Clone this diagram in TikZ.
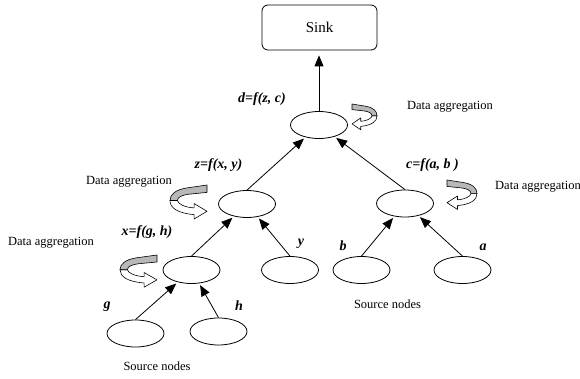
\documentclass[tikz,border=0pt]{standalone}
\usepackage{fontspec}
\setmainfont{Liberation Serif}
\usetikzlibrary{shapes.geometric,arrows.meta}

\begin{document}
\begin{tikzpicture}[
    x=1pt,y=-1pt,
    agg/.style={draw,ellipse,minimum width=57pt,minimum height=27pt,
                inner sep=0pt,line width=0.8pt},
    sinkbox/.style={draw,rounded corners=6pt,minimum width=115pt,
                minimum height=45pt,line width=0.8pt,font=\fontsize{15}{17}\selectfont},
    link/.style={-{Triangle[length=11pt,width=9pt]},line width=0.8pt,shorten >=2pt},
    fn/.style={anchor=base,font=\fontsize{14}{16}\selectfont\bfseries\itshape},
    note/.style={anchor=base,font=\fontsize{12.5}{14}\selectfont},
    curl/.style={draw,line width=0.6pt,line join=round},
  ]
    \useasboundingbox (0,0) rectangle (580,379);

    \node[sinkbox] (sink) at (319.5,27.5) {Sink};

    \node[agg] (nd) at (319,125)     {};
    \node[agg] (nz) at (247,204)     {};
    \node[agg] (nc) at (405,203.5)   {};
    \node[agg] (nx) at (191.5,270)   {};
    \node[agg] (ny) at (290,270)     {};
    \node[agg] (nb) at (361.5,270)   {};
    \node[agg] (na) at (462.5,270)   {};
    \node[agg] (ng) at (135.5,333.5) {};
    \node[agg] (nh) at (218.5,331.5) {};

    \draw[link,shorten >=5pt] (nd.north) -- (nd.north |- sink.south);
    \foreach \from/\to in {nz/nd,nc/nd,nx/nz,ny/nz,nb/nc,na/nc,ng/nx,nh/nx}
      \draw[link] (\from.north) -- (\to);

    % aggregation functions and leaf names
    \node[fn] (fd) at (262,102.5) {d=f(z, c)};
    \node[fn] (fz) at (218.5,169) {z=f(x, y)};
    \node[fn] (fc) at (432.5,169) {c=f(a, b )};
    \node[fn] (fx) at (147,235)   {x=f(g, h)};
    \node[fn] (ly) at (301,245)   {y};
    \node[fn] (lb) at (343,250)   {b};
    \node[fn] (la) at (483,250)   {a};
    \node[fn] (lg) at (107,308)   {g};
    \node[fn] (lh) at (239,310)   {h};

    \node[note] (agd) at (450,109.5) {Data aggregation};
    \node[note] (agz) at (129,184.3) {Data aggregation};
    \node[note] (agx) at (51,245)    {Data aggregation};
    \node[note,anchor=base west,inner sep=0pt] (agc) at (495,190) {Data aggregation};
    \node[note] (srcl) at (157,370.5) {Source nodes};
    \node[note] (srcr) at (387.5,308.5) {Source nodes};

    % curled arrows
    \foreach \cx/\cy/\cw/\ch in {352/104/25/28,447/180/30/32,207/185/-37/37,157/255/-37/35}{
      \begin{scope}[shift={(\cx,\cy)},xscale=\cw,yscale=\ch]
        \draw[curl,fill=white] (1,0.42) .. controls (1,0.62) and (0.8,0.76) .. (0.35,0.8)
          -- (0.35,0.92) -- (0,0.71) -- (0.35,0.5) -- (0.35,0.62)
          .. controls (0.6,0.6) and (0.78,0.52) .. (0.8,0.42) -- cycle;
        \draw[curl,fill=black!28] (0,0) -- (0.55,0.08)
          .. controls (0.85,0.13) and (1,0.25) .. (1,0.42) -- (0.8,0.42)
          .. controls (0.8,0.32) and (0.65,0.27) .. (0.5,0.25) -- (0,0.2) -- cycle;
      \end{scope}
    }
  \end{tikzpicture}
\end{document}
